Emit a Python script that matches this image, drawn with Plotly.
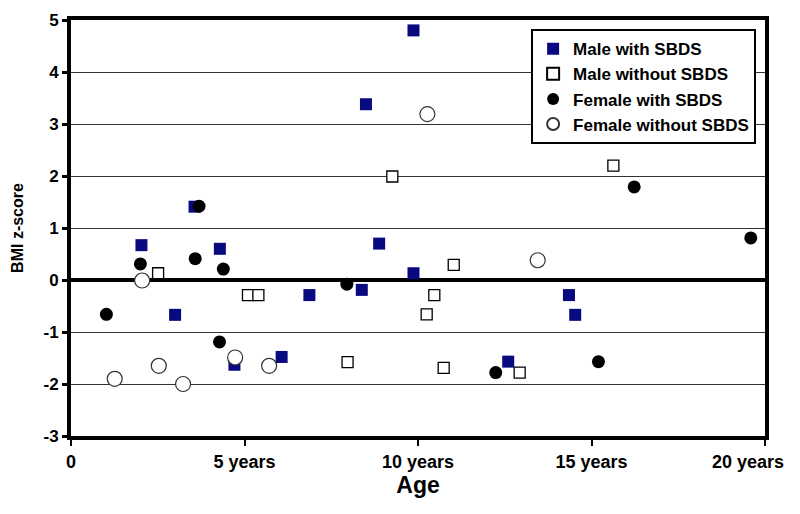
import plotly.graph_objects as go

# Data (age in years, BMI z-score)
male_sbds_age = [2.03, 3.56, 4.29, 3.0, 4.71, 6.07, 6.87, 8.38, 8.88, 8.5, 9.87, 9.87, 14.35, 14.53, 12.6]
male_sbds_z = [0.67, 1.41, 0.60, -0.67, -1.63, -1.48, -0.29, -0.19, 0.70, 3.38, 4.8, 0.13, -0.29, -0.67, -1.57]

male_no_age = [2.51, 5.1, 5.4, 7.97, 9.26, 11.03, 10.47, 10.25, 10.74, 12.93, 15.63]
male_no_z = [0.13, -0.29, -0.29, -1.58, 1.99, 0.29, -0.29, -0.66, -1.69, -1.78, 2.2]

female_sbds_age = [1.02, 2.0, 3.69, 3.58, 4.39, 4.28, 7.95, 12.24, 15.2, 16.23, 19.59]
female_sbds_z = [-0.66, 0.31, 1.42, 0.41, 0.21, -1.19, -0.08, -1.78, -1.57, 1.79, 0.81]

female_no_age = [2.05, 1.26, 2.53, 3.23, 4.73, 5.71, 10.27, 13.45]
female_no_z = [-0.01, -1.9, -1.65, -2.0, -1.49, -1.65, 3.19, 0.38]

x_tickvals = [0, 5, 10, 15, 20]
x_ticktext = ["0", "5 years", "10 years", "15 years", ""]
x_last_tickval = [20]
x_last_ticktext = ["20 years"]
y_tickvals = [-3, -2, -1, 0, 1, 2, 3, 4, 5]
y_ticktext = ["-3", "-2", "-1", "0", "1", "2", "3", "4", "5"]

FONT = "Liberation Sans, Arial, sans-serif"
TICKFONT = dict(family=FONT, size=18, color="black", weight="bold")

fig = go.Figure()
fig.add_trace(go.Scatter(
    x=male_sbds_age, y=male_sbds_z, mode="markers", name="Male with SBDS",
    marker=dict(symbol="square", size=12, color="#0a0a80", line=dict(width=0))))
fig.add_trace(go.Scatter(
    x=male_no_age, y=male_no_z, mode="markers", name="Male without SBDS",
    marker=dict(symbol="square", size=11, color="white", line=dict(width=1.3, color="black"))))
fig.add_trace(go.Scatter(
    x=female_sbds_age, y=female_sbds_z, mode="markers", name="Female with SBDS",
    marker=dict(symbol="circle", size=13, color="black", line=dict(width=0))))
fig.add_trace(go.Scatter(
    x=female_no_age, y=female_no_z, mode="markers", name="Female without SBDS",
    marker=dict(symbol="circle", size=15, color="white", line=dict(width=1.2, color="#333333"))))
# invisible helper trace so the secondary axis (last tick label) is drawn
fig.add_trace(go.Scatter(
    x=x_last_tickval, y=[None], xaxis="x2", mode="markers", showlegend=False,
    hoverinfo="skip", marker=dict(opacity=0)))

fig.update_layout(
    width=800, height=514,
    margin=dict(l=63, r=43, t=12, b=86, autoexpand=False),
    paper_bgcolor="white", plot_bgcolor="white",
    font=dict(family=FONT, color="black"),
    showlegend=True,
    legend=dict(
        x=0.663, y=0.978, xanchor="left", yanchor="top",
        bgcolor="white", bordercolor="black", borderwidth=2,
        font=dict(family=FONT, size=17, color="black", weight="bold"),
        tracegroupgap=0, itemsizing="constant", itemwidth=30,
    ),
    xaxis=dict(
        range=[0, 20], tickvals=x_tickvals, ticktext=x_ticktext,
        showgrid=False, zeroline=False, automargin=False,
        showline=True, linecolor="black", linewidth=4, mirror=True,
        ticks="outside", ticklen=6, tickwidth=1.5, tickcolor="black",
        tickfont=TICKFONT,
        title=dict(text="Age", font=dict(family=FONT, size=23, color="black", weight="bold"), standoff=6),
    ),
    xaxis2=dict(
        overlaying="x", side="bottom", anchor="y",
        range=[0, 20], tickvals=x_last_tickval, ticktext=x_last_ticktext,
        showgrid=False, zeroline=False, automargin=False,
        showline=True, linecolor="black", linewidth=4,
        ticks="outside", ticklen=6, tickwidth=1.5, tickcolor="black",
        ticklabelshift=-17, ticklabeloverflow="allow",
        tickfont=TICKFONT,
    ),
    yaxis=dict(
        range=[-3, 5], tickvals=y_tickvals, ticktext=y_ticktext,
        showgrid=True, gridcolor="#333333", gridwidth=1.3,
        zeroline=True, zerolinecolor="black", zerolinewidth=3.5, automargin=False,
        showline=True, linecolor="black", linewidth=4, mirror=True,
        ticks="outside", ticklen=5, tickwidth=3, tickcolor="black",
        tickfont=dict(family=FONT, size=17, color="black", weight="bold"),
        title=dict(text="BMI z-score", font=dict(family=FONT, size=16, color="black", weight="bold"), standoff=17),
    ),
)

fig.write_html("out.html")
